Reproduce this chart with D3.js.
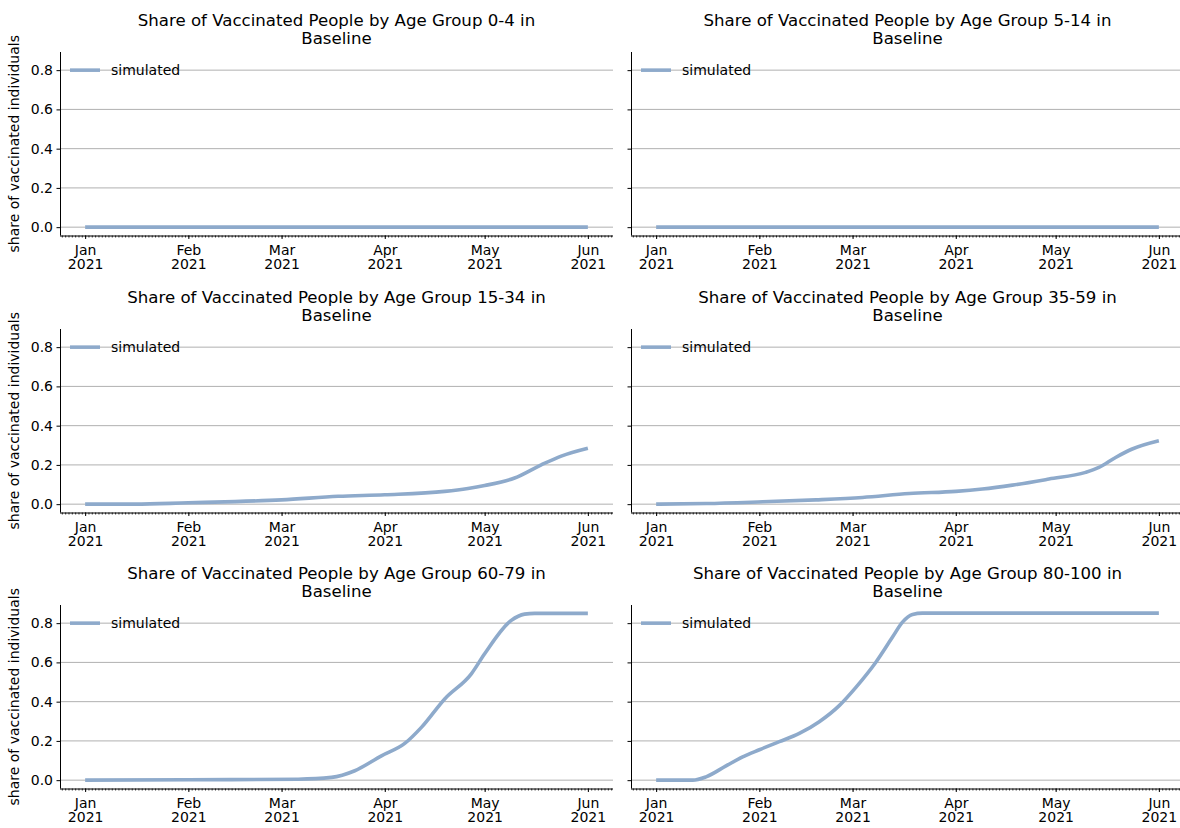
<!DOCTYPE html>
<html><head><meta charset="utf-8">
<script src="https://cdn.jsdelivr.net/npm/d3@7"></script>
<style>
body{margin:0;background:#fff}
svg{display:block}
text{font-family:"DejaVu Sans",sans-serif;fill:#000}
</style>
</head><body>
<svg id="chart" width="1180" height="828"></svg>
<script>
// ---- data ----
const ageGroups = ["0-4","5-14","15-34","35-59","60-79","80-100"];
const scenario = "Baseline";
const seriesLabel = "simulated";
const yTicks = [0.0,0.2,0.4,0.6,0.8];
const monthTicks = ["2021-01-01","2021-02-01","2021-03-01","2021-04-01","2021-05-01","2021-06-01"];

const dates_0_4 = ["2021-01-01","2021-02-01","2021-03-01","2021-04-01","2021-05-01","2021-06-01"];
const values_0_4 = [0,0,0,0,0,0];

const dates_5_14 = ["2021-01-01","2021-02-01","2021-03-01","2021-04-01","2021-05-01","2021-06-01"];
const values_5_14 = [0,0,0,0,0,0];

const dates_15_34 = ["2021-01-01","2021-01-16","2021-02-01","2021-02-15","2021-03-01","2021-03-18","2021-04-01","2021-04-19","2021-04-26","2021-05-01","2021-05-10","2021-05-18","2021-05-24","2021-06-01"];
const values_15_34 = [0,0,0.007,0.013,0.022,0.040,0.048,0.065,0.080,0.095,0.133,0.200,0.245,0.285];

const dates_35_59 = ["2021-01-01","2021-01-16","2021-02-02","2021-02-18","2021-03-04","2021-03-18","2021-04-01","2021-04-09","2021-04-18","2021-04-29","2021-05-10","2021-05-14","2021-05-19","2021-05-24","2021-06-01"];
const values_35_59 = [0,0.003,0.012,0.022,0.034,0.054,0.065,0.077,0.097,0.128,0.162,0.187,0.238,0.281,0.323];

const dates_60_79 = ["2021-01-01","2021-02-01","2021-03-06","2021-03-16","2021-03-23","2021-03-31","2021-04-07","2021-04-12","2021-04-19","2021-04-27","2021-05-01","2021-05-09","2021-05-13","2021-05-16","2021-06-01"];
const values_60_79 = [0,0.002,0.005,0.014,0.048,0.124,0.187,0.269,0.414,0.542,0.644,0.814,0.846,0.850,0.850];

const dates_80_100 = ["2021-01-01","2021-01-12","2021-01-16","2021-01-22","2021-01-27","2021-02-01","2021-02-07","2021-02-13","2021-02-19","2021-02-25","2021-03-02","2021-03-08","2021-03-13","2021-03-16","2021-03-19","2021-03-22","2021-06-01"];
const values_80_100 = [0,0,0.017,0.073,0.119,0.155,0.196,0.238,0.298,0.380,0.473,0.601,0.729,0.805,0.844,0.851,0.851];

const seriesDates = [dates_0_4,dates_5_14,dates_15_34,dates_35_59,dates_60_79,dates_80_100];
const seriesValues = [values_0_4,values_5_14,values_15_34,values_35_59,values_60_79,values_80_100];

// ---- layout ----
const parse = d3.utcParse("%Y-%m-%d");
const svg = d3.select("#chart");
const colX = [60, 631];
const rowY = [52, 329, 605];
const pw = 553, ph = 183.5;
const lineColor = "#8eaacb";
const gridColor = "#b0b0b0";

const start = parse("2021-01-01"), end = parse("2021-06-01");
const span = end - start;
const xDomain = [new Date(+start - span*0.05), new Date(+end + span*0.05)];
const yDomain = [-0.0425, 0.8925];
const fmtM = d3.utcFormat("%b"), fmtY = d3.utcFormat("%Y");

ageGroups.forEach((g, i) => {
  const col = i % 2, row = Math.floor(i / 2);
  const x0 = colX[col], y0 = rowY[row];
  const x = d3.scaleUtc().domain(xDomain).range([x0, x0 + pw]);
  const y = d3.scaleLinear().domain(yDomain).range([y0 + ph, y0]);
  const gEl = svg.append("g");

  // grid
  gEl.append("g").selectAll("line").data(yTicks).join("line")
    .attr("x1", x0).attr("x2", x0 + pw)
    .attr("y1", d => y(d)).attr("y2", d => y(d))
    .attr("stroke", gridColor).attr("stroke-width", 1);

  // line
  const data = seriesDates[i].map((d, k) => ({date: parse(d), v: seriesValues[i][k]}));
  const line = d3.line().x(d => x(d.date)).y(d => y(d.v)).curve(d3.curveMonotoneX);
  gEl.append("path").datum(data).attr("d", line)
    .attr("fill", "none").attr("stroke", lineColor).attr("stroke-width", 3.6)
    .attr("stroke-linecap", "butt").attr("stroke-linejoin", "round");

  // y axis
  const yAxis = d3.axisLeft(y).tickValues(yTicks).tickSize(3.5).tickPadding(3.5)
    .tickFormat(col === 0 ? d3.format(".1f") : () => "");
  const ya = gEl.append("g").attr("transform", `translate(${x0},0)`).call(yAxis);
  ya.select(".domain").attr("d", `M0.5,${y0}V${y0+ph}`).attr("stroke", "#000");
  ya.selectAll("text").attr("font-size", 14).attr("font-family", "DejaVu Sans");

  // x axis minor (daily)
  const days = d3.utcDay.range(xDomain[0], xDomain[1]).filter(d => d >= xDomain[0]);
  const xMinor = d3.axisBottom(x).tickValues(days).tickSize(2).tickFormat("");
  const xm = gEl.append("g").attr("transform", `translate(0,${y0+ph})`).call(xMinor);
  xm.select(".domain").remove();
  xm.selectAll("line").attr("stroke-width", 0.8);

  // x axis major
  const xAxis = d3.axisBottom(x).tickValues(monthTicks.map(parse)).tickSize(3.5).tickFormat("");
  const xa = gEl.append("g").attr("transform", `translate(0,${y0+ph})`).call(xAxis);
  xa.select(".domain").attr("d", `M${x0},0.5H${x0+pw}`).attr("stroke", "#000");
  xa.selectAll(".tick").append("text").attr("fill", "#000").attr("font-size", 14)
    .attr("text-anchor", "middle")
    .each(function(d) {
      const t = d3.select(this);
      t.append("tspan").attr("x", 0).attr("y", 19).text(fmtM(d));
      t.append("tspan").attr("x", 0).attr("y", 33).text(fmtY(d));
    });

  // title
  const cx = x0 + pw / 2;
  const title = svg.append("text").attr("text-anchor", "middle").attr("font-size", 16.6);
  title.append("tspan").attr("x", cx).attr("y", y0 - 26).text(`Share of Vaccinated People by Age Group ${g} in`);
  title.append("tspan").attr("x", cx).attr("y", y0 - 8).text(scenario);

  // legend
  const ly = y(0.8);
  svg.append("line").attr("x1", x0 + 10).attr("x2", x0 + 40).attr("y1", ly).attr("y2", ly)
    .attr("stroke", lineColor).attr("stroke-width", 3.6);
  svg.append("text").attr("x", x0 + 51).attr("y", ly + 5).attr("font-size", 14).text(seriesLabel);

  // y label
  if (col === 0) {
    svg.append("text").attr("transform", `translate(19,${y0 + ph/2}) rotate(-90)`)
      .attr("text-anchor", "middle").attr("font-size", 14).text("share of vaccinated individuals");
  }
});
</script>
</body></html>
